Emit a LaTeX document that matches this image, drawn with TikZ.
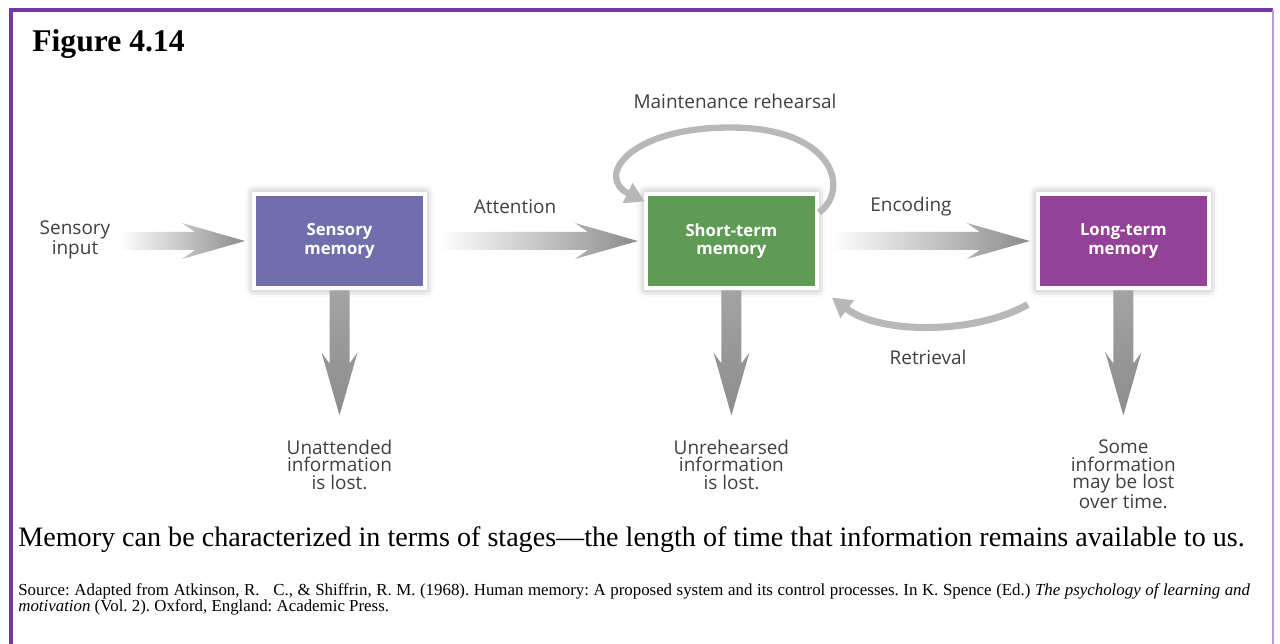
\documentclass[tikz,border=0pt]{standalone}
\usepackage{fontspec}
\setmainfont{Liberation Serif}
\setsansfont{Open Sans}
\usetikzlibrary{positioning,calc,arrows.meta,shadows.blur}

\definecolor{sensc}{RGB}{112,110,172}
\definecolor{stmc}{RGB}{95,155,85}
\definecolor{ltmc}{RGB}{148,66,152}
\definecolor{framec}{RGB}{117,55,165}
\definecolor{txtc}{RGB}{64,64,64}

% fat shaded arrows, #1 = tail, #2 = tip
\newcommand{\hfat}[2]{%
  \shade[left color=white, right color=black!45]
    ($(#1)+(0,-9)$) -- ($(#2)+(-50,-9)$) -- ($(#2)+(-63,-18)$) -- (#2)
    -- ($(#2)+(-63,18)$) -- ($(#2)+(-50,9)$) -- ($(#1)+(0,9)$) -- cycle;}
\newcommand{\vfat}[2]{%
  \shade[top color=black!36, middle color=black!22, bottom color=black!45]
    ($(#1)+(-10,0)$) -- ($(#2)+(-10,-52)$) -- ($(#2)+(-18,-63)$) -- (#2)
    -- ($(#2)+(18,-63)$) -- ($(#2)+(10,-52)$) -- ($(#1)+(10,0)$) -- cycle;}

\begin{document}
\begin{tikzpicture}[x=0.02cm, y=-0.02cm,
    membox/.style={draw=white, line width=0.08cm, minimum width=3.42cm,
      minimum height=1.9cm, align=center, text=white,
      font=\sffamily\bfseries\fontsize{9.5}{10.5}\selectfont,
      blur shadow={shadow xshift=0pt, shadow yshift=0pt,
        shadow blur radius=5pt, shadow opacity=40}},
    lbl/.style={align=center, text=txtc, inner sep=0pt,
      font=\sffamily\fontsize{10.8}{10}\selectfont},
    backarrow/.style={draw=black!28, line width=3.6pt,
      -{Triangle[length=11pt,width=12pt]}}]

  \useasboundingbox (0,0) rectangle (1280,644);

  %% Frame
  \draw[framec, line width=0.08cm] (11,660) -- (11,10) -- (1273,10);
  \draw[framec!50, line width=0.03cm] (1273,10) -- (1273,660);

  \node[anchor=base west, inner sep=0pt,
    font=\bfseries\fontsize{18}{20}\selectfont] (fig) at (32,52) {Figure 4.14};

  %% Stores
  \node[membox, fill=sensc] (sens) at (339.5,241) {Sensory\\memory};
  \node[membox, fill=stmc, right=4.34cm of sens] (stm) {Short-term\\memory};
  \node[membox, fill=ltmc, right=4.34cm of stm] (ltm) {Long-term\\memory};

  %% Labels
  \node[lbl] (input) at (75,240) {Sensory\\input};
  \node[lbl] (att) at (515,207) {Attention};
  \node[lbl] (enc) at (911,207) {Encoding};
  \node[lbl] (maint) at (735,101) {Maintenance rehearsal};
  \node[lbl] (retr) at (928,357) {Retrieval};
  \node[lbl, anchor=north] (lost1) at ($(sens.south)+(0,149)$)
    {Unattended\\information\\is lost.};
  \node[lbl, anchor=north] (lost2) at ($(stm.south)+(0,149)$)
    {Unrehearsed\\information\\is lost.};
  \node[lbl, anchor=north] (lost3) at ($(ltm.south)+(0,149)$)
    {Some\\information\\may be lost\\over time.};

  %% Forward arrows
  \coordinate (t0) at (120,241);
  \coordinate (h0) at ($(sens.west)+(-7,0)$);
  \coordinate (t1) at ($(sens.east)+(13,0)$);
  \coordinate (h1) at ($(stm.west)+(-6,0)$);
  \coordinate (t2) at ($(stm.east)+(13,0)$);
  \coordinate (h2) at ($(ltm.west)+(-6,0)$);
  \hfat{t0}{h0}
  \hfat{t1}{h1}
  \hfat{t2}{h2}

  %% Loss arrows
  \foreach \b in {sens,stm,ltm} {
    \coordinate (d\b) at ($(\b.south)+(0,125)$);
    \vfat{\b.south}{d\b}
  }

  %% Rehearsal loop and retrieval
  \draw[backarrow] ($(stm.north east)+(0,21)$)
    .. controls ($(stm.north east)+(31,-1)$) and ($(stm.north)+(104,-64)$)
    .. ($(stm.north)+(-1,-64)$)
    .. controls ($(stm.north)+(-104,-64)$) and ($(stm.north)+(-136,-14)$)
    .. ($(stm.north west)+(1,10)$);
  \draw[backarrow, line width=4pt] ($(ltm.south west)+(-8,14)$)
    .. controls ($(ltm.south west)+(-61,44)$) and ($(stm.south east)+(61,44)$)
    .. ($(stm.south east)+(13,7)$);

  %% Caption
  \node[anchor=base west, inner sep=0pt, font=\fontsize{16}{18}\selectfont]
    (capt) at (18,546)
    {Memory can be characterized in terms of stages---the length of time that information remains available to us.};
  \node[anchor=north west, inner sep=0pt, text width=24.64cm, align=justify,
    font=\fontsize{9.6}{9.4}\selectfont\frenchspacing] (src) at (18,583)
    {Source: Adapted from Atkinson, R.\ \ \ C., \& Shiffrin, R. M. (1968). Human memory: A proposed system and its control processes. In K. Spence (Ed.) \textit{The psychology of learning and}\linebreak \textit{motivation} (Vol. 2). Oxford, England: Academic Press.};

\end{tikzpicture}
\end{document}
